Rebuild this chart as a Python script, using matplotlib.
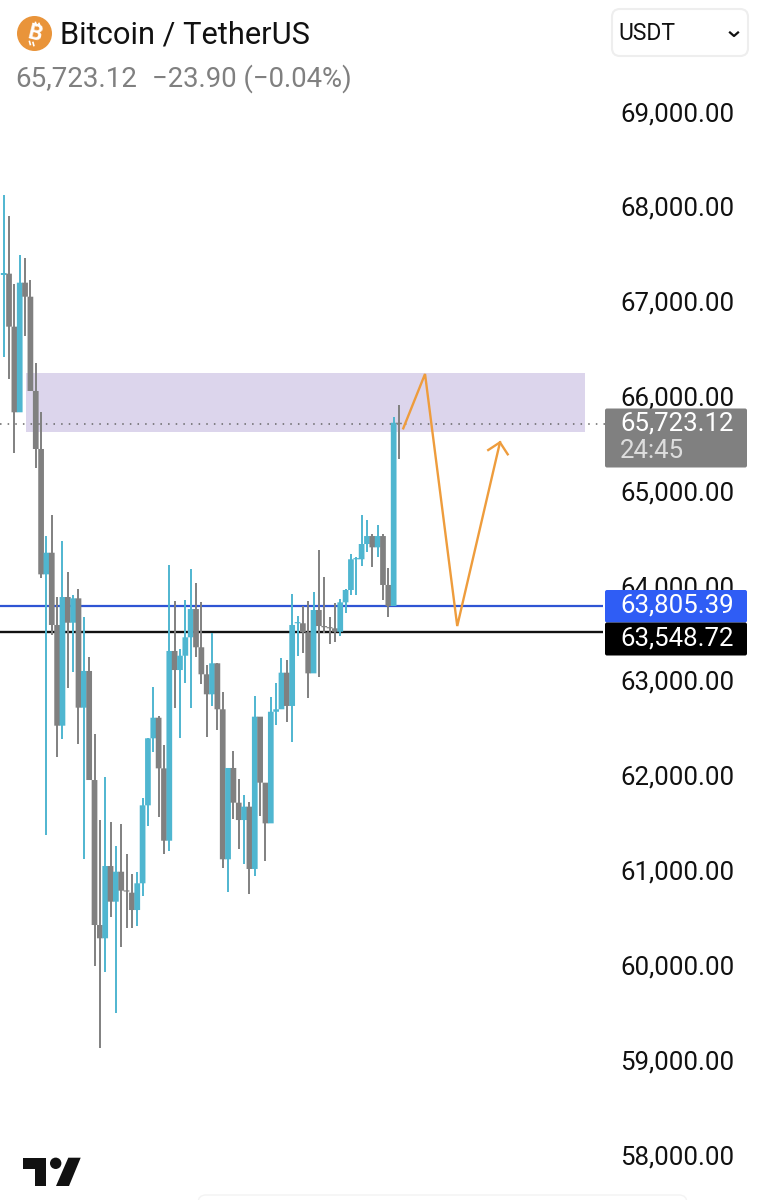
import matplotlib
matplotlib.use('Agg')
import matplotlib.pyplot as plt
from matplotlib.patches import Circle, FancyBboxPatch, Polygon, Rectangle
from matplotlib.transforms import ScaledTranslation

plt.rcParams['font.family'] = ['Roboto', 'DejaVu Sans']

# candle values
opens = [67297, 67311, 66752, 65849, 67216, 67068, 66074, 65462, 64140, 64368,
         63606, 62544, 63901, 63630, 63887, 62734, 63121, 61971, 60442, 60302,
         61064, 60688, 61004, 60804, 60783, 60600, 60882, 61704, 62411, 62628,
         62094, 61331, 63332, 63131, 63282, 63476, 63774, 63371, 63086, 62875,
         63202, 62717, 61135, 62098, 61732, 61549, 61690, 61033, 62639, 61943,
         61514, 62691, 62717, 63103, 62752, 63624, 63624, 63529, 63096, 63764,
         63595, 63582, 63571, 63535, 63845, 63975, 64299, 64299, 64460, 64544,
         64425, 64544, 64028, 63806, 65739]
highs = [68141, 67919, 67202, 67511, 67476, 67244, 66372, 65855, 64544, 64766,
         63904, 64495, 64165, 63922, 63985, 63693, 63265, 62456, 61549, 62000,
         61531, 61278, 61504, 61191, 60977, 60998, 61778, 62414, 62955, 62646,
         62337, 64239, 63862, 63353, 63869, 64193, 64045, 63851, 63184, 63525,
         63208, 62896, 62098, 62277, 61978, 61810, 61742, 62857, 62639, 61943,
         62850, 62997, 63255, 63237, 63930, 63701, 63806, 63862, 63951, 64393,
         64109, 63693, 63835, 63880, 63985, 64351, 64326, 64763, 64713, 64562,
         64660, 64562, 64210, 65802, 65926]
lows = [66432, 66200, 65423, 65849, 66657, 66074, 65261, 64101, 61391, 63500,
        62217, 62403, 62945, 63113, 62348, 61135, 61971, 60010, 59142, 59949,
        60523, 59511, 60207, 60407, 60407, 60435, 60751, 61486, 62266, 61584,
        61188, 61226, 62727, 62411, 62991, 62727, 63271, 62983, 62428, 62755,
        62498, 61046, 60793, 61557, 61240, 61085, 60766, 60962, 61595, 61117,
        61514, 62551, 62717, 62583, 62372, 63279, 63307, 62839, 63096, 63054,
        63518, 63402, 63423, 63493, 63735, 63922, 63922, 64231, 64379, 64221,
        64326, 63869, 63687, 63806, 65356]
closes = [67318, 66752, 65849, 67216, 67068, 66074, 65462, 64140, 64368, 63606,
          62544, 63901, 63630, 63887, 62734, 63121, 61971, 60442, 60302, 61064,
          60688, 61004, 60804, 60795, 60600, 60882, 61704, 62411, 62628, 62094,
          61331, 63332, 63131, 63282, 63476, 63774, 63371, 63086, 62875, 63202,
          62717, 61135, 62098, 61732, 61549, 61690, 61033, 62639, 61943, 61514,
          62691, 62717, 63103, 62752, 63606, 63629, 63529, 63096, 63764, 63595,
          63582, 63571, 63535, 63845, 63975, 64299, 64305, 64460, 64544, 64425,
          64544, 64028, 63806, 65739, 65723]

price_ticks = [58000, 59000, 60000, 61000, 62000, 63000, 64000, 65000, 66000, 67000, 68000, 69000]

last_price = 65723.12
blue_level = 63805.39
black_level = 63548.72
black_line = 63532  # where the line actually sits in the picture

zone_left, zone_right = 4.17, 108.8
zone_low, zone_high = 65645, 66267

pattern_x = [74.8, 78.87, 84.9, 92.9]
pattern_y = [65680, 66253, 63595, 65532]
head_x = [90.7, 92.9, 94.35]
head_y = [65451, 65532, 65406]

UP = '#4fb6d0'
DOWN = '#808080'
ORANGE = '#ee9c3c'
LABEL_SIZE = 18.6

fig = plt.figure(figsize=(7.57, 12), dpi=100, facecolor='white')
ax = fig.add_axes([0, 0, 605 / 757, 1])
ax.set_xlim(-0.693, 112.56)
ax.set_ylim(57542, 70197)
for s in ax.spines.values():
    s.set_visible(False)
ax.set_xticks([])
ax.yaxis.tick_right()
ax.set_yticks(price_ticks)
ax.set_yticklabels([f'{p:,.2f}' for p in price_ticks])
ax.tick_params(axis='y', length=0, pad=10.8, labelsize=LABEL_SIZE, labelcolor='#111111')
# the labels sit slightly above their level in the app
up_shift = ScaledTranslation(0, 2 / 100, fig.dpi_scale_trans)
for lab in ax.get_yticklabels():
    lab.set_transform(lab.get_transform() + up_shift)

# zone and levels
ax.add_patch(Rectangle((zone_left, zone_low), zone_right - zone_left, zone_high - zone_low,
                       facecolor='#dcd5ec', edgecolor='none', zorder=1))
ax.plot([-0.693, 112.56], [last_price, last_price], color='#666666', lw=1.1,
        linestyle=(0, (1, 4)), zorder=2)
ax.hlines(blue_level, -0.693, 112.1, color='#2f55d4', lw=1.6, zorder=2)
ax.hlines(black_line, -0.693, 112.1, color='#111111', lw=1.7, zorder=2)

# candles
for i in range(len(opens)):
    col = UP if closes[i] >= opens[i] else DOWN
    ax.vlines(i, lows[i], highs[i], color=col, lw=1.4, zorder=3 + i * 0.01)
    bottom = min(opens[i], closes[i])
    ax.bar(i, max(abs(closes[i] - opens[i]), 12), bottom=bottom, width=1.07, color=col,
           linewidth=0, zorder=3 + i * 0.01, snap=False)

# drawn projection
ax.plot(pattern_x, pattern_y, color=ORANGE, lw=1.7, solid_joinstyle='miter', zorder=4)
ax.plot(head_x, head_y, color=ORANGE, lw=1.7, solid_joinstyle='miter', zorder=4)

# page furniture, in pixels
ui = fig.add_axes([0, 0, 1, 1])
ui.set_xlim(0, 757)
ui.set_ylim(1200, 0)
ui.axis('off')

ui.add_patch(Circle((34.5, 33.5), 17.5, facecolor='#e9943a', edgecolor='none'))
ui.text(34.5, 34, 'B', color='white', fontsize=16, fontweight='bold', rotation=-14,
        ha='center', va='center')
ui.plot([35.5, 36.3], [22.5, 25.5], color='white', lw=1.2)
ui.plot([39, 39.8], [23.5, 26.5], color='white', lw=1.2)
ui.plot([29.5, 30.3], [41.5, 44.5], color='white', lw=1.2)
ui.plot([33, 33.8], [42.5, 45.5], color='white', lw=1.2)

ui.text(60.5, 34.5, 'Bitcoin / TetherUS', fontsize=22.2, color='#111111', va='center')
ui.text(15, 79, '65,723.12', fontsize=20, color='#808080', va='center')
ui.text(152, 79, '\u221223.90 (\u22120.04%)', fontsize=19.8, color='#808080', va='center')

ui.add_patch(FancyBboxPatch((612, 9), 136, 47, boxstyle='round,pad=0,rounding_size=8',
                            facecolor='white', edgecolor='#eeeeee', lw=1.5))
ui.text(618, 34, 'USDT', fontsize=16.5, color='#111111', va='center')
ui.plot([730, 734, 738], [32.5, 36, 32.5], color='#111111', lw=1.6)

ui.add_patch(FancyBboxPatch((605, 408.5), 142, 59, boxstyle='round,pad=0,rounding_size=2',
                            facecolor='#808080', edgecolor='none'))
ui.text(620, 424, f'{last_price:,.2f}', fontsize=LABEL_SIZE, color='white', va='center')
ui.text(620, 451.5, '24:45', fontsize=LABEL_SIZE, color='#dddddd', va='center')
ui.add_patch(FancyBboxPatch((605, 590), 142, 32.5, boxstyle='round,pad=0,rounding_size=2',
                            facecolor='#2f5df5', edgecolor='none'))
ui.text(620, 605.5, f'{blue_level:,.2f}', fontsize=LABEL_SIZE, color='white', va='center')
ui.add_patch(FancyBboxPatch((605, 622.5), 142, 33, boxstyle='round,pad=0,rounding_size=2',
                            facecolor='black', edgecolor='none'))
ui.text(620, 638.5, f'{black_level:,.2f}', fontsize=LABEL_SIZE, color='white', va='center')

# TradingView logo
ui.add_patch(Polygon([(22.7, 1157.7), (46, 1157.7), (46, 1186), (34.7, 1186), (34.7, 1169.3), (22.7, 1169.3)],
                     facecolor='#111111', edgecolor='none'))
ui.add_patch(Circle((55.7, 1163.3), 5.7, facecolor='#111111', edgecolor='none'))
ui.add_patch(Polygon([(68.3, 1157.7), (80.7, 1157.7), (69, 1186), (56, 1186)],
                     facecolor='#111111', edgecolor='none'))

ui.add_patch(FancyBboxPatch((198, 1195), 489, 30, boxstyle='round,pad=0,rounding_size=8',
                            facecolor='white', edgecolor='#f3f3f3', lw=1))

fig.savefig('out.png', dpi=100)
plt.close()
